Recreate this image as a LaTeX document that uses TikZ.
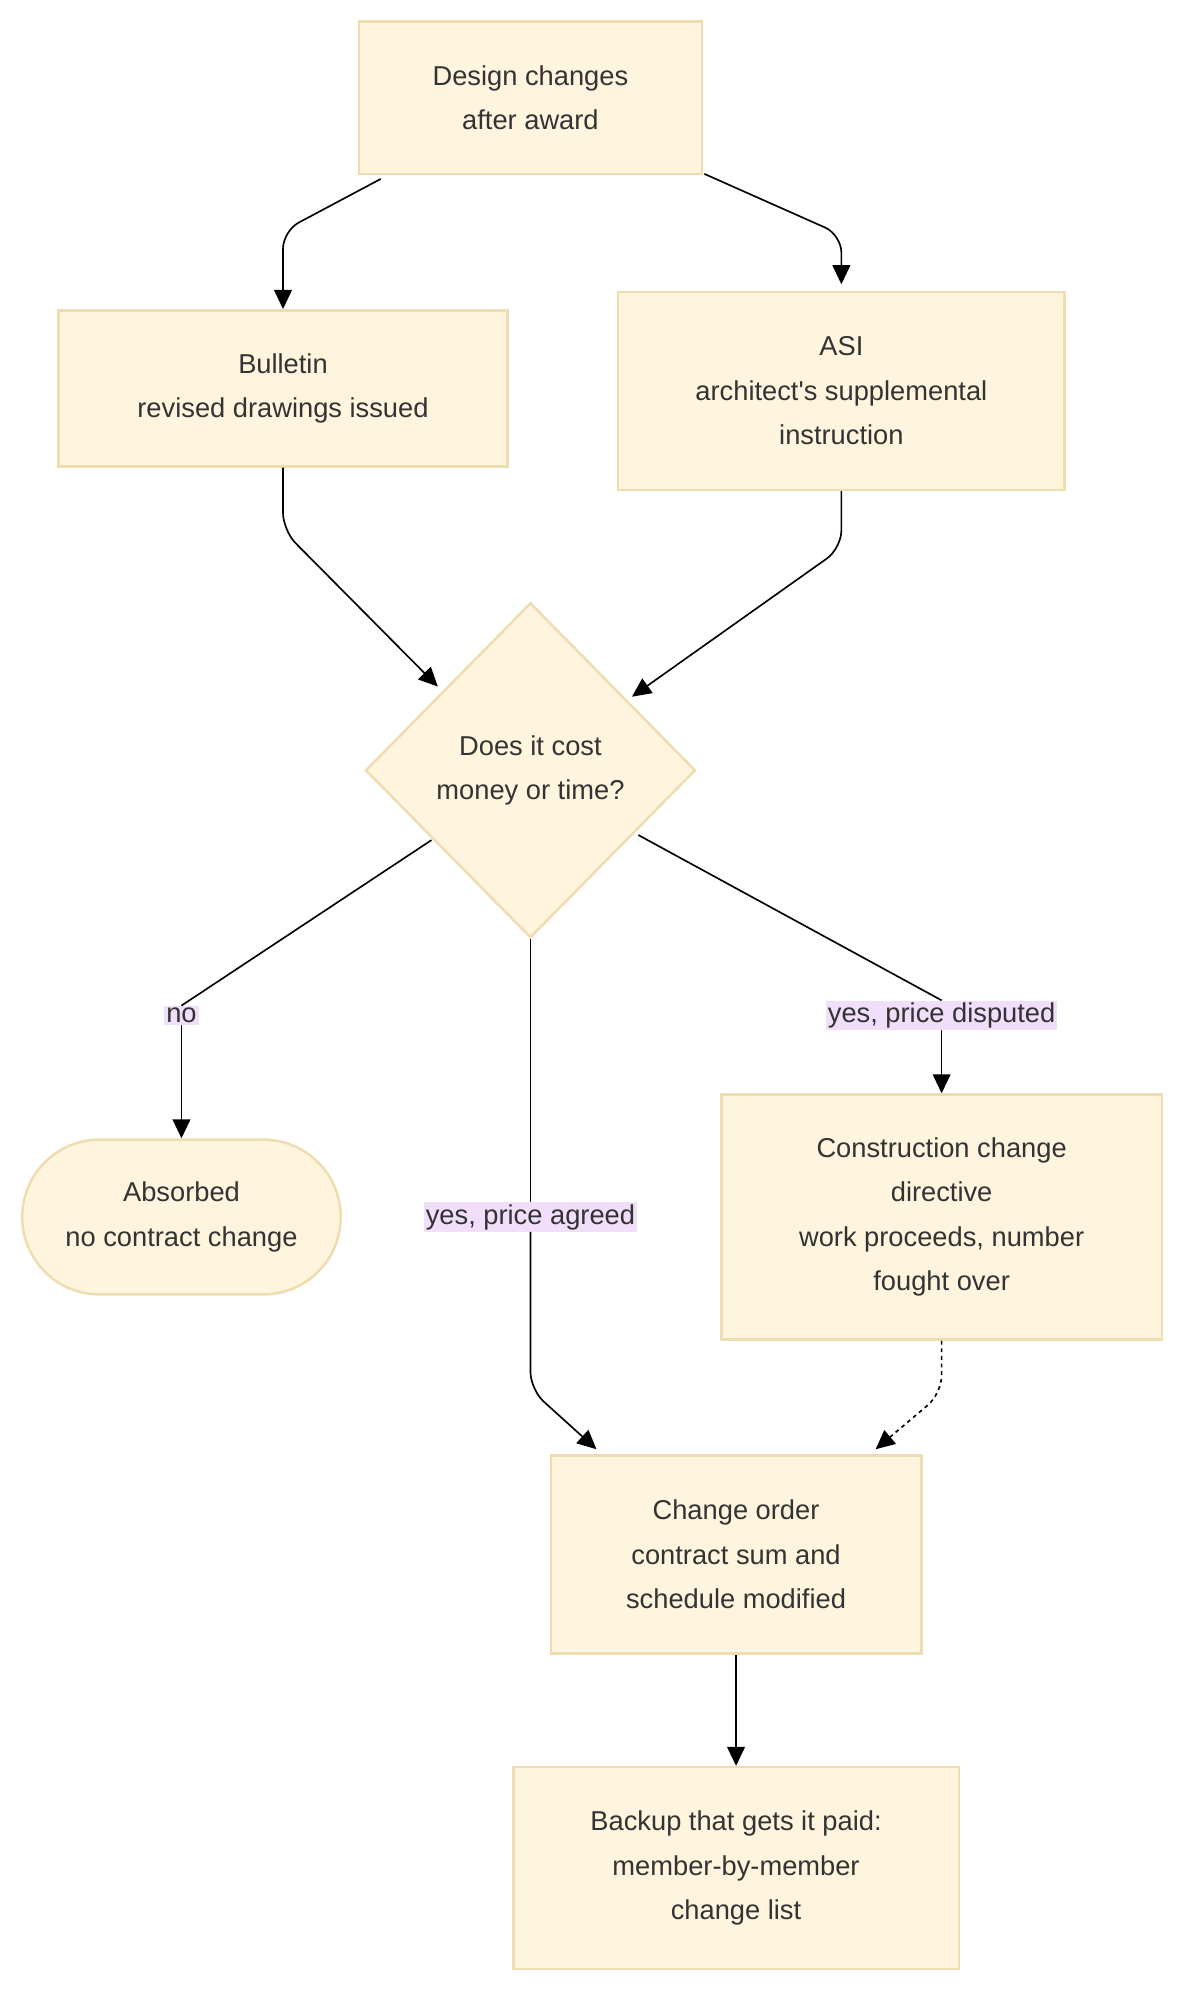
\documentclass[tikz,border=0pt]{standalone}
\usepackage{fontspec}
\setmainfont{Liberation Sans}
\usetikzlibrary{shapes.geometric,arrows.meta,patterns}
\definecolor{boxfill}{HTML}{FFF5DE}
\definecolor{boxline}{HTML}{EEDDB0}
\definecolor{lblbg}{HTML}{F1DEFA}
\definecolor{txt}{HTML}{333333}
\tikzset{
  x=1pt,y=-1pt,
  base/.style={fill=boxfill,draw=boxline,line width=2pt,text=txt,align=center,
    font=\fontsize{21.5}{35}\selectfont,inner sep=0pt},
  rbox/.style={base,rectangle,minimum width=#1},
  dia/.style={base,diamond,minimum width=260pt,minimum height=264pt},
  stad/.style={base,rectangle,rounded corners=61pt,minimum width=251pt,minimum height=122pt},
  lbl/.style={fill=lblbg,text=txt,font=\fontsize{21.5}{24}\selectfont,inner sep=1.5pt},
  conn/.style={draw=black,line width=1.3pt,-{Triangle[length=15pt,width=14pt]},rounded corners=14pt},
}
\begin{document}
\begin{tikzpicture}
\useasboundingbox (0,0) rectangle (940,1576);
\node[rbox=270pt,minimum height=120pt] (top) at (418,77) {Design changes\\after award};
\node[rbox=354pt,minimum height=123pt] (bul) at (223,306) {Bulletin\\revised drawings issued};
\node[rbox=352pt,minimum height=156pt] (asi) at (663,308) {ASI\\architect\textquotesingle s supplemental\\instruction};
\node[dia] (dec) at (418,607) {Does it cost\\money or time?};
\node[stad] (abs) at (143,959) {Absorbed\\no contract change};
\node[rbox=347pt,minimum height=193pt] (ccd) at (742,959) {Construction change\\directive\\work proceeds, number\\fought over};
\node[rbox=292pt,minimum height=156pt] (co) at (580,1225) {Change order\\contract sum and\\schedule modified};
\node[rbox=351pt,minimum height=159pt] (bk) at (580,1472) {Backup that gets it paid:\\member-by-member\\change list};
\node[lbl] (lno) at (143,800) {no};
\node[lbl] (ldis) at (742,800) {yes, price disputed};
\node[lbl] (lagr) at (418,959) {yes, price agreed};
\coordinate (a1) at (300,141); \coordinate (a2) at (555,137);
\draw[conn] (a1) -- (223,182) -- (bul.north);
\draw[conn] (a2) -- (663,185) -- (663,224);
\draw[conn] (bul.south) -- (223,418) -- (345,541);
\draw[conn] (asi.south) -- (663,432) -- (498,549);
\draw[line width=1.3pt] (340,662) -- (lno.north);
\draw[conn] (lno.south) -- (abs.north);
\draw[line width=1.3pt] (503,658) -- (ldis.north);
\draw[conn] (ldis.south) -- (ccd.north);
\draw[line width=1.3pt] (dec.south) -- (lagr.north);
\draw[conn] (lagr.south) -- (418,1095) -- (470,1142);
\draw[conn,dashed] (ccd.south) -- (742,1098) -- (690,1142);
\draw[conn] (co.south) -- (bk.north);
\end{tikzpicture}
\end{document}
